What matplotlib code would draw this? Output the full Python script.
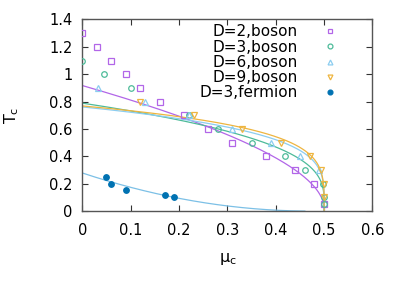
import numpy as np
import matplotlib
matplotlib.use("Agg")
import matplotlib.pyplot as plt

# ---- data points ----
d2_mu = [0.0, 0.03, 0.06, 0.09, 0.12, 0.16, 0.21, 0.26, 0.31, 0.38, 0.44, 0.48, 0.5]
d2_T  = [1.3, 1.2, 1.1, 1.0, 0.9, 0.8, 0.7, 0.6, 0.5, 0.4, 0.3, 0.2, 0.05]

d3_mu = [0.0, 0.045, 0.10, 0.22, 0.28, 0.35, 0.42, 0.46, 0.497, 0.5, 0.5]
d3_T  = [1.1, 1.0, 0.9, 0.7, 0.6, 0.5, 0.4, 0.3, 0.2, 0.1, 0.05]

d6_mu = [0.033, 0.13, 0.22, 0.31, 0.39, 0.45, 0.49]
d6_T  = [0.9, 0.8, 0.7, 0.6, 0.5, 0.4, 0.3]

d9_mu = [0.12, 0.23, 0.33, 0.41, 0.47, 0.494, 0.5, 0.5]
d9_T  = [0.8, 0.7, 0.6, 0.5, 0.4, 0.3, 0.2, 0.1]

f3_mu = [0.049, 0.059, 0.089, 0.17, 0.19]
f3_T  = [0.25, 0.2, 0.15, 0.12, 0.1]

# ---- points ----
c2_mu = [0.0, 0.16, 0.21, 0.26, 0.31, 0.38, 0.44, 0.48, 0.4975]
c2_T  = [0.939, 0.77, 0.70, 0.60, 0.51, 0.40, 0.30, 0.19, 0.068]
c3_mu = [0.0, 0.201, 0.279, 0.35, 0.408, 0.449, 0.4996]
c3_T  = [0.793, 0.676, 0.59, 0.52, 0.457, 0.387, 0.11]
c6_mu = [0.0, 0.308, 0.429, 0.449, 0.4996]
c6_T  = [0.761, 0.607, 0.48, 0.445, 0.142]
c9_mu = [0.0, 0.2, 0.329, 0.408, 0.449, 0.4975]
c9_T  = [0.774, 0.69, 0.605, 0.52, 0.48, 0.226]
cf_mu = [0.0, 0.1, 0.2, 0.243, 0.4]
cf_T  = [0.275, 0.179, 0.09, 0.063, 0.007]

labels = ["D=2,boson", "D=3,boson", "D=6,boson", "D=9,boson", "D=3,fermion"]
xticks = [0, 0.1, 0.2, 0.3, 0.4, 0.5, 0.6]
xticklabels = ["0", "0.1", "0.2", "0.3", "0.4", "0.5", "0.6"]
yticks = [0, 0.2, 0.4, 0.6, 0.8, 1.0, 1.2, 1.4]
yticklabels = ["0", "0.2", "0.4", "0.6", "0.8", "1", "1.2", "1.4"]

MU_C = 0.5

def loglog_fit(mu, T, deg=2):
    mu = np.asarray(mu); T = np.asarray(T)
    coef = np.polyfit(np.log(MU_C - mu), np.log(T), deg)
    d = np.geomspace(MU_C, 2e-4, 500)
    x = np.concatenate([MU_C - d, [MU_C]])
    y = np.concatenate([np.exp(np.polyval(coef, np.log(d))), [0.0]])
    return x, y

plt.rcParams['font.family'] = ['DejaVu Sans']
fig = plt.figure(figsize=(4.03, 2.82), dpi=100)
ax = fig.add_axes([0.2047, 0.2518, 0.7196, 0.6791])

c_pur = '#b266e8'
c_grn = '#4dbb99'
c_lbl = '#8ccdf0'
c_org = '#eeb540'
c_dbl = '#0072B2'
c_fl = '#7cc0e6'

lw = 0.9
for (cm, cT, col) in [(c2_mu, c2_T, c_pur), (c3_mu, c3_T, c_grn),
                      (c6_mu, c6_T, c_lbl), (c9_mu, c9_T, c_org)]:
    x, y = loglog_fit(cm, cT)
    ax.plot(x, y, color=col, lw=lw, zorder=2)

pf = np.polyfit(cf_mu, cf_T, 2)
xf = np.linspace(0, 0.46, 200)
ax.plot(xf, np.polyval(pf, xf), color=c_fl, lw=lw, zorder=2)

ms = 4
mew = 0.9
ax.plot(d2_mu, d2_T, ls='none', marker='s', ms=ms, mfc='none', mec=c_pur, mew=mew, label=labels[0], zorder=3)
ax.plot(d3_mu, d3_T, ls='none', marker='o', ms=ms, mfc='none', mec=c_grn, mew=mew, label=labels[1], zorder=3)
ax.plot(d6_mu, d6_T, ls='none', marker='^', ms=ms, mfc='none', mec=c_lbl, mew=mew, label=labels[2], zorder=3)
ax.plot(d9_mu, d9_T, ls='none', marker='v', ms=ms, mfc='none', mec=c_org, mew=mew, label=labels[3], zorder=3)
ax.plot(f3_mu, f3_T, ls='none', marker='o', ms=ms, mfc=c_dbl, mec=c_dbl, mew=mew, label=labels[4], zorder=3)

ax.set_xlim(0, 0.6)
ax.set_ylim(0, 1.4)
ax.set_xticks(xticks)
ax.set_xticklabels(xticklabels)
ax.set_yticks(yticks)
ax.set_yticklabels(yticklabels)
ax.tick_params(axis='x', pad=9)
ax.tick_params(axis='y', pad=7)
ax.tick_params(direction='in', top=True, right=True, length=4, width=0.8,
               labelsize=10.5, color='#333333')
for s in ax.spines.values():
    s.set_color('#555555')
    s.set_linewidth(1.0)

ax.set_xlabel(r'$\mathregular{\mu_c}$', fontsize=11.5, labelpad=9)
ax.set_ylabel(r'$\mathregular{T_c}$', fontsize=11.5, labelpad=20)

leg = ax.legend(loc='upper right', bbox_to_anchor=(0.88, 0.975), frameon=False,
                markerfirst=False, fontsize=11, handlelength=1.0,
                handletextpad=1.6, labelspacing=0.02, borderaxespad=0.0,
                borderpad=0.0)
for t in leg.get_texts():
    t.set_ha('right')
leg._legend_box.align = 'right'
for h in leg.legend_handles:
    h.set_markersize(3.5)

fig.savefig('out.png', dpi=100)
